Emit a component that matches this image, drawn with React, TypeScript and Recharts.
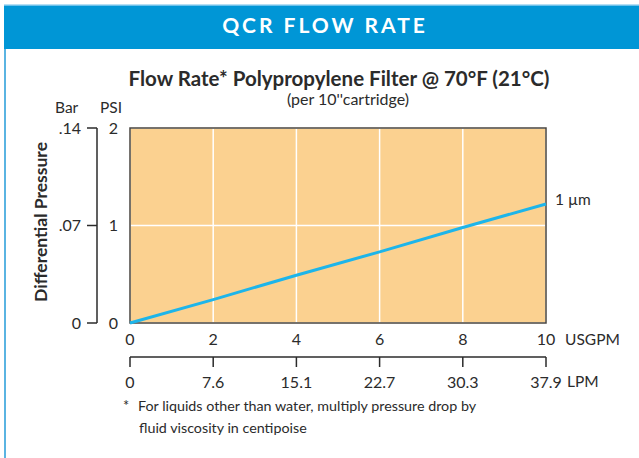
import React from 'react'
import {
  ComposedChart,
  Line,
  XAxis,
  YAxis,
  CartesianGrid,
  ReferenceArea,
} from 'recharts'

// flow (USGPM) vs differential pressure (PSI), 1 micron cartridge
const gpm = [0, 2, 4, 6, 8, 10]
const psi = [0, 0.24, 0.49, 0.73, 0.98, 1.22]

const gpmTicks = [0, 2, 4, 6, 8, 10]
const lpmLabels = ['0', '7.6', '15.1', '22.7', '30.3', '37.9']
const psiTicks = [0, 1, 2]
const barTicks = [0, 0.07, 0.14]

const data = gpm.map((g, i) => ({ gpm: g, psi: psi[i] }))

const FONT = 'Lato, "Noto Sans", sans-serif'
const INK = '#2b2b2b'
const tick = { fill: INK, fontSize: 16, fontFamily: FONT }

const barLabel = (v: number) => (v === 0 ? '0' : String(v).replace(/^0\./, '.'))
const lpmLabel = (v: number) => lpmLabels[gpmTicks.indexOf(v)] ?? ''

// axis ids: the "a-" axis ends up next to the plot, the "b-" one outside it
const USG = 'a-usg'
const LPM = 'b-lpm'
const PSI = 'a-psi'
const BAR = 'b-bar'

export default function App() {
  return (
    <div
      style={{
        position: 'absolute',
        left: 0,
        top: 0,
        width: 639,
        height: 458,
        background: '#fff',
        overflow: 'hidden',
        fontFamily: FONT,
      }}
    >
      <ComposedChart
        width={639}
        height={458}
        data={data}
        margin={{ top: 128, right: 93, left: 50, bottom: 61 }}
      >
        <CartesianGrid
          xAxisId={USG}
          yAxisId={PSI}
          fill="#fbd190"
          stroke="#ffffff"
          strokeWidth={1.5}
          strokeDasharray=""
        />
        <XAxis
          xAxisId={USG}
          dataKey="gpm"
          type="number"
          domain={[0, 10]}
          ticks={gpmTicks}
          height={34}
          axisLine={false}
          tickLine={false}
          tickSize={0}
          tickMargin={11}
          tick={tick}
          interval={0}
        />
        <XAxis
          xAxisId={LPM}
          dataKey="gpm"
          type="number"
          domain={[0, 10]}
          ticks={gpmTicks}
          tickFormatter={lpmLabel}
          height={40}
          axisLine={{ stroke: INK, strokeWidth: 1.5 }}
          tickLine={{ stroke: INK, strokeWidth: 1.5 }}
          tickSize={10}
          tickMargin={10}
          tick={tick}
          interval={0}
        />
        <YAxis
          yAxisId={PSI}
          type="number"
          domain={[0, 2]}
          ticks={psiTicks}
          width={33}
          axisLine={false}
          tickLine={false}
          tickSize={0}
          tickMargin={12}
          tick={tick}
          interval={0}
        />
        <YAxis
          yAxisId={BAR}
          type="number"
          domain={[0, 0.14]}
          ticks={barTicks}
          width={47}
          axisLine={{ stroke: INK, strokeWidth: 1.5 }}
          tickLine={{ stroke: INK, strokeWidth: 1.5 }}
          tickSize={10}
          tickMargin={6}
          tick={tick}
          tickFormatter={barLabel}
          interval={0}
          allowDataOverflow
        />
        <ReferenceArea
          xAxisId={USG}
          yAxisId={PSI}
          x1={0}
          x2={10}
          y1={0}
          y2={2}
          fill="none"
          fillOpacity={0}
          stroke="#4a4540"
          strokeWidth={1.5}
        />
        <Line
          xAxisId={USG}
          yAxisId={PSI}
          dataKey="psi"
          type="linear"
          stroke="#1db5ea"
          strokeWidth={3}
          dot={false}
          isAnimationActive={false}
        />
      </ComposedChart>

      {/* header, titles and unit labels */}
      <svg
        width={639}
        height={458}
        style={{ position: 'absolute', left: 0, top: 0, pointerEvents: 'none' }}
        fontFamily={FONT}
      >
        <rect x={4} y={6} width={640} height={43} fill="#0096d6" />
        <rect x={4} y={4.5} width={640} height={1.5} fill="#6cc0ea" />
        <rect x={4} y={49} width={2} height={409} fill="#5ab4e2" />
        <text x={325} y={33} textAnchor="middle" fill="#fff" fontSize={21} fontWeight={700} letterSpacing={3}>
          QCR FLOW RATE
        </text>
        <text x={339} y={86} textAnchor="middle" fill={INK} fontSize={20.5} fontWeight={700}>
          Flow Rate* Polypropylene Filter @ 70°F (21°C)
        </text>
        <text x={348} y={105} textAnchor="middle" fill={INK} fontSize={16}>
          (per 10''cartridge)
        </text>
        <text x={55} y={113} fill={INK} fontSize={15.5}>Bar</text>
        <text x={100} y={113} fill={INK} fontSize={15.5}>PSI</text>
        <text
          x={47}
          y={222}
          transform="rotate(-90 47 222)"
          textAnchor="middle"
          fill={INK}
          fontSize={17.5}
          fontWeight={700}
        >
          Differential Pressure
        </text>
        <text x={555} y={205} fill={INK} fontSize={15.5}>1 µm</text>
        <text x={565} y={345} fill={INK} fontSize={15.5}>USGPM</text>
        <text x={567} y={387} fill={INK} fontSize={15.5}>LPM</text>
        <text x={123} y={411} fill={INK} fontSize={14.5}>*</text>
        <text x={138} y={411} fill={INK} fontSize={14.3}>
          For liquids other than water, multiply pressure drop by
        </text>
        <text x={139} y={433} fill={INK} fontSize={14.3}>
          fluid viscosity in centipoise
        </text>
      </svg>
    </div>
  )
}
